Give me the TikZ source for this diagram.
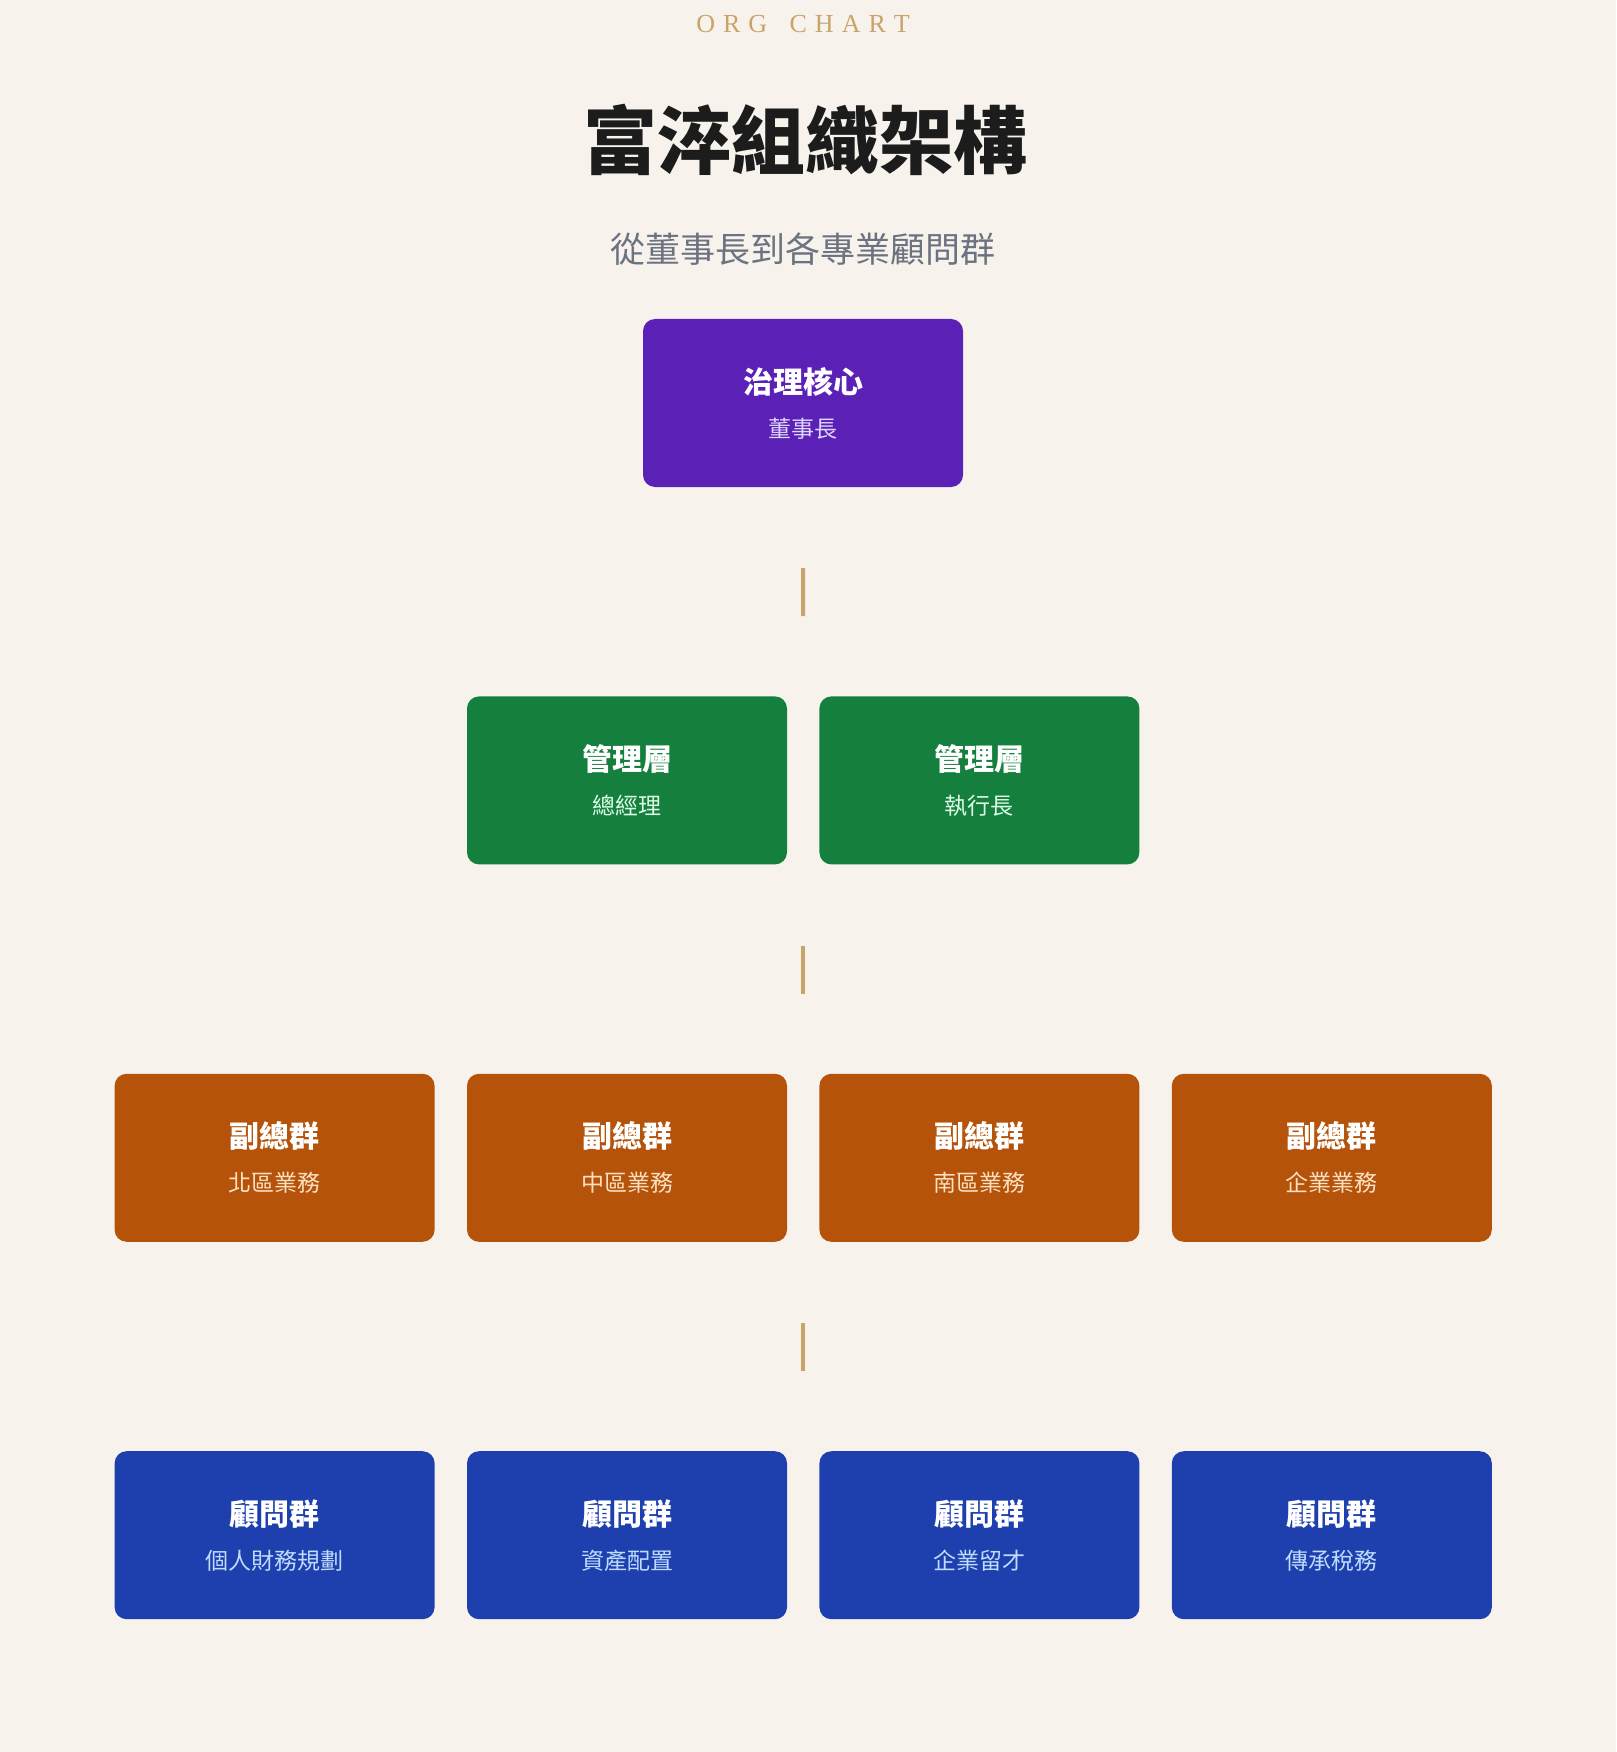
\documentclass[tikz,border=0pt]{standalone}
\usepackage{fontspec}
\setmainfont{Liberation Serif}
\newfontfamily\cjk{Noto Sans CJK TC}
\usepackage{tikz}
\usetikzlibrary{positioning,calc}
\definecolor{Paper}{HTML}{F7F3EC}
\definecolor{Ink}{HTML}{1C1C1C}
\definecolor{Muted}{HTML}{6B7280}
\definecolor{Gold}{HTML}{C9A46A}
\definecolor{Gov}{HTML}{5B21B6}
\definecolor{GovSoft}{HTML}{DDD6FE}
\definecolor{Mgt}{HTML}{15803D}
\definecolor{MgtSoft}{HTML}{DCFCE7}
\definecolor{Vice}{HTML}{B45309}
\definecolor{ViceSoft}{HTML}{FDE0C2}
\definecolor{Adv}{HTML}{1E40AF}
\definecolor{AdvSoft}{HTML}{BFDBFE}
\tikzset{
  card/.style={rounded corners=12pt,minimum width=320pt,minimum height=168pt,inner sep=0pt,align=center,font=\cjk\fontsize{23}{44}\selectfont},
  cardgov/.style={card,fill=Gov,text=GovSoft},
  cardmgt/.style={card,fill=Mgt,text=MgtSoft},
  cardvice/.style={card,fill=Vice,text=ViceSoft},
  cardadv/.style={card,fill=Adv,text=AdvSoft},
  link/.style={draw=Gold,line width=4pt,shorten <=81pt,shorten >=80pt}
}
\newcommand{\cardtitle}[1]{{\color{white}\bfseries\fontsize{30}{44}\selectfont #1}}

\begin{document}
\begin{tikzpicture}[node distance={209pt and 32pt}]
\fill[Paper] (0,0) rectangle (1616pt,-1752pt);
\useasboundingbox (0,0) rectangle (1616pt,-1752pt);
% heading
\node[text=Gold,font=\fontsize{26}{30}\selectfont,inner sep=0pt] (kicker) at (803pt,-24pt) {O\kern8pt R\kern8pt G\kern8pt\ \kern8pt C\kern8pt H\kern8pt A\kern8pt R\kern8pt T};
\node[text=Ink,font=\cjk\bfseries\fontsize{74}{80}\selectfont,inner sep=0pt] (title) at (805pt,-140pt) {富淬組織架構};
\node[text=Muted,font=\cjk\fontsize{35}{40}\selectfont,inner sep=0pt] (subtitle) at (803pt,-249pt) {從董事長到各專業顧問群};
% levels
\node[cardgov] (chair) at (803pt,-403pt) {\cardtitle{治理核心}\\董事長};
\node[cardmgt,below=of chair,xshift=-176pt] (gm) {\cardtitle{管理層}\\總經理};
\node[cardmgt,right=of gm] (ceo) {\cardtitle{管理層}\\執行長};
\node[cardvice,below=of gm] (vpc) {\cardtitle{副總群}\\中區業務};
\node[cardvice,below=of ceo] (vps) {\cardtitle{副總群}\\南區業務};
\node[cardvice,left=of vpc] (vpn) {\cardtitle{副總群}\\北區業務};
\node[cardvice,right=of vps] (vpe) {\cardtitle{副總群}\\企業業務};
\node[cardadv,below=of vpn] (advfin) {\cardtitle{顧問群}\\個人財務規劃};
\node[cardadv,below=of vpc] (advasset) {\cardtitle{顧問群}\\資產配置};
\node[cardadv,below=of vps] (advtalent) {\cardtitle{顧問群}\\企業留才};
\node[cardadv,below=of vpe] (advtax) {\cardtitle{顧問群}\\傳承稅務};
% connectors
\coordinate (mgttop) at ($(gm.north)!.5!(ceo.north)$);
\coordinate (mgtbot) at ($(gm.south)!.5!(ceo.south)$);
\coordinate (vicetop) at ($(vpc.north)!.5!(vps.north)$);
\coordinate (vicebot) at ($(vpc.south)!.5!(vps.south)$);
\coordinate (advtop) at ($(advasset.north)!.5!(advtalent.north)$);
\draw[link] (chair.south)--(mgttop);
\draw[link] (mgtbot)--(vicetop);
\draw[link] (vicebot)--(advtop);
\end{tikzpicture}
\end{document}
